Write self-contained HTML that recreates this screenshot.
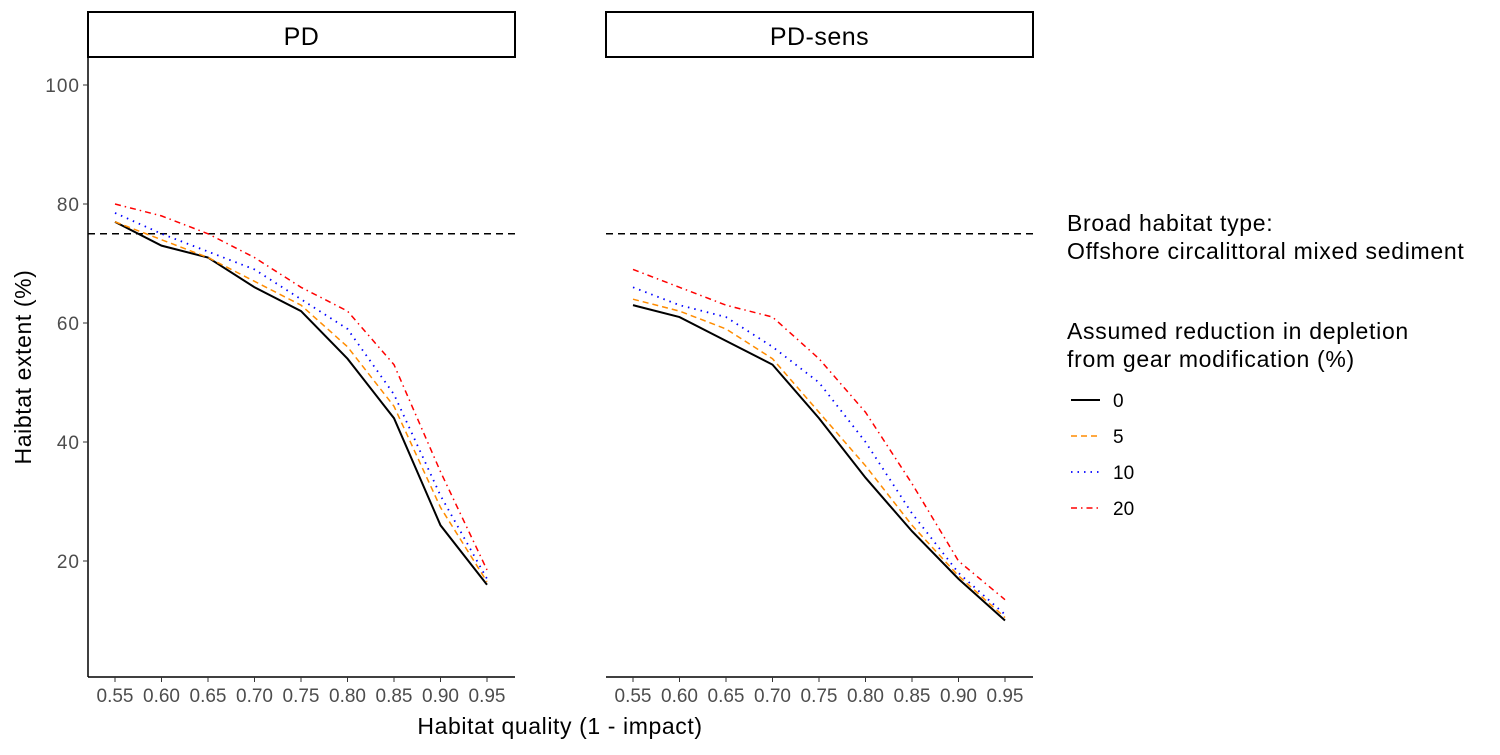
<!DOCTYPE html>
<html><head><meta charset="utf-8"><style>
body{margin:0;background:#fff;font-family:"Liberation Sans",sans-serif}
svg text{font-family:"Liberation Sans",sans-serif}
</style></head><body>
<svg id="chart" width="1500" height="750" xmlns="http://www.w3.org/2000/svg"></svg>
<script>
const categories=[0.55,0.60,0.65,0.70,0.75,0.80,0.85,0.90,0.95];
const xTickLabels=["0.55","0.60","0.65","0.70","0.75","0.80","0.85","0.90","0.95"];
const yTicks=[20,40,60,80,100];
const panels=["PD","PD-sens"];
const seriesNames=["0","5","10","20"];
const pd0=[77,73,71,66,62,54,44,26,16];
const pd5=[77,74,71,67,63,56,46,29,16.5];
const pd10=[78.5,75,72,69,64,59,48,31,17];
const pd20=[80,78,75,71,66,62,53,35,18.5];
const sens0=[63,61,57,53,44,34,25,17,10];
const sens5=[64,62,59,54,45,36,26,17.5,10.5];
const sens10=[66,63,61,56,50,40,28,18,11];
const sens20=[69,66,63,61,54,45,33,20,13.5];
const threshold=75;
const panelData=[[pd0,pd5,pd10,pd20],[sens0,sens5,sens10,sens20]];
const styles=[{c:"#000",d:"",w:2},{c:"#ff8c00",d:"6,4",w:1.5},{c:"#0000ff",d:"1.5,5",w:1.8},{c:"#ff0000",d:"6,4,1.5,4",w:1.5}];
const svg=document.getElementById('chart');const NS="http://www.w3.org/2000/svg";
function mk(t,a,p){const e=document.createElementNS(NS,t);for(const k in a)e.setAttribute(k,a[k]);(p||svg).appendChild(e);return e;}
const yTop=57,yBot=677;
function ys(v){return 680-v*5.95;}
const pX=[88,606],pW=427;
function xs(p,v){return pX[p]+27+(v-0.55)/0.4*372;}
panels.forEach((name,p)=>{
 const g=mk('g',{});
 
 
 const s=mk('rect',{x:pX[p],y:12,width:pW,height:45,fill:'#fff',stroke:'#000','stroke-width':2},g);
 
 const st=mk('text',{x:pX[p]+pW/2,y:45,'text-anchor':'middle','font-size':25,'letter-spacing':0.5},g);st.textContent=name;
 
 mk('line',{x1:pX[p],x2:pX[p]+pW,y1:yBot,y2:yBot,stroke:'#000','stroke-width':1.5},g);
 if(p===0){mk('line',{x1:88,x2:88,y1:yTop,y2:yBot,stroke:'#000','stroke-width':1.5},g);
  yTicks.forEach(v=>{mk('line',{x1:83,x2:88,y1:ys(v),y2:ys(v),stroke:'#333'},g);
   const t=mk('text',{x:80,y:ys(v)+7,'text-anchor':'end','font-size':19,'letter-spacing':1,fill:'#4d4d4d'},g);t.textContent=v;
   });}
 categories.forEach((c,i)=>{mk('line',{x1:xs(p,c),x2:xs(p,c),y1:yBot,y2:yBot+5,stroke:'#333'},g);
  const t=mk('text',{x:xs(p,c),y:yBot+25,'text-anchor':'middle','font-size':19,fill:'#4d4d4d'},g);t.textContent=xTickLabels[i];
  });
 const th=mk('line',{x1:pX[p],x2:pX[p]+pW,y1:ys(threshold),y2:ys(threshold),stroke:'#000','stroke-width':1.5,'stroke-dasharray':'7,5'},g);
 
 panelData[p].forEach((arr,si)=>{const st=styles[si];
  const pl=mk('polyline',{points:arr.map((v,i)=>xs(p,categories[i])+','+ys(v)).join(' '),fill:'none',stroke:st.c,'stroke-width':st.w,'stroke-dasharray':st.d},g);
  });
});
let t=mk('text',{x:560,y:734,'text-anchor':'middle','font-size':23,'letter-spacing':0.6});t.textContent="Habitat quality (1 - impact)";

t=mk('text',{x:0,y:0,'text-anchor':'middle','font-size':23,'letter-spacing':0.6,transform:'translate(31,367) rotate(-90)'});t.textContent="Haibtat extent (%)";

[["Broad habitat type:",231],["Offshore circalittoral mixed sediment",259],["Assumed reduction in depletion",339],["from gear modification (%)",367]].forEach(([s,y])=>{
 const e=mk('text',{x:1067,y:y,'font-size':23,'letter-spacing':0.7});e.textContent=s;});
seriesNames.forEach((n,i)=>{const st=styles[i];const y=400+i*36;
 const g=mk('g',{});
 mk('line',{x1:1071,x2:1100,y1:y,y2:y,stroke:st.c,'stroke-width':st.w,'stroke-dasharray':st.d},g);
 const e=mk('text',{x:1113,y:y+7,'font-size':19},g);e.textContent=n;});
</script>
</body></html>
